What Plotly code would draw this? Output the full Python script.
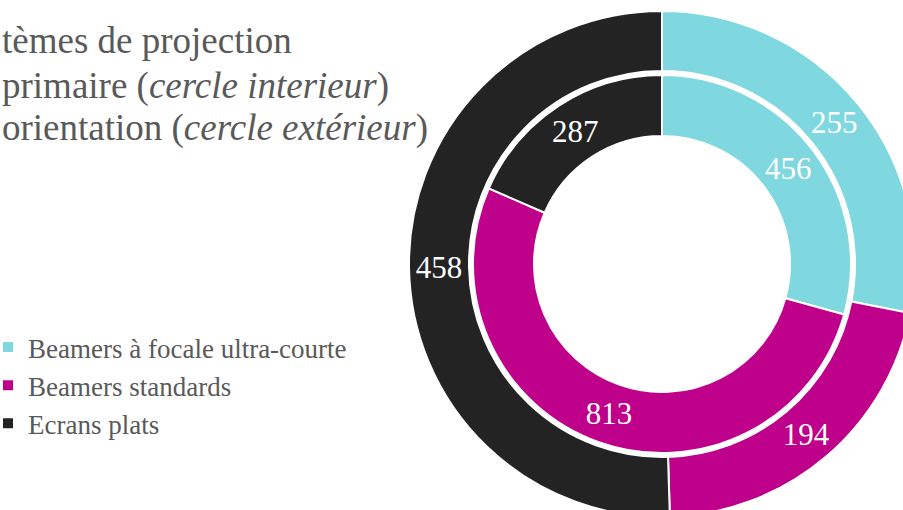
import plotly.graph_objects as go

# ---- data ----
labels = ["Beamers à focale ultra-courte", "Beamers standards", "Ecrans plats"]
inner_values = [456, 813, 287]   # usage primaire (cercle interieur)
outer_values = [255, 194, 458]   # orientation (cercle extérieur)
colors = ["#7FD8E0", "#BE008A", "#232323"]
title_lines = [
    "tèmes de projection",
    "primaire (<i>cercle interieur</i>)",
    "orientation (<i>cercle extérieur</i>)",
]

# ---- layout geometry (pixels) ----
W, H = 920, 530          # figure slightly larger than the 903x510 view, clipped like the reference
cx, cy = 662, 264        # donut centre (from top-left)
R_out, R_mid_out, R_mid_in, R_in = 253, 193, 189, 128
FONT = "Liberation Serif, Times New Roman, serif"


def dom(r):
    cyb = H - cy
    return dict(x=[(cx - r) / W, (cx + r) / W], y=[(cyb - r) / H, (cyb + r) / H])


fig = go.Figure()
fig.add_trace(go.Pie(
    labels=labels, values=outer_values, sort=False, direction="clockwise", rotation=0,
    hole=R_mid_out / R_out, domain=dom(R_out),
    marker=dict(colors=colors, line=dict(color="white", width=2)),
    textinfo="value", textposition="inside", insidetextorientation="horizontal",
    textfont=dict(family=FONT, size=31, color="white"), showlegend=False,
))
fig.add_trace(go.Pie(
    labels=labels, values=inner_values, sort=False, direction="clockwise", rotation=0,
    hole=R_in / R_mid_in, domain=dom(R_mid_in),
    marker=dict(colors=colors, line=dict(color="white", width=2)),
    textinfo="value", textposition="inside", insidetextorientation="horizontal",
    textfont=dict(family=FONT, size=31, color="white"), showlegend=True,
))

title_mid = [41, 86, 128]
for txt, ym in zip(title_lines, title_mid):
    fig.add_annotation(text=txt, xref="paper", yref="paper", x=0, y=1 - ym / H,
                       xanchor="left", yanchor="middle", showarrow=False,
                       font=dict(family=FONT, size=37, color="#595959"))

fig.update_layout(
    width=W, height=H, margin=dict(l=0, r=0, t=0, b=0, autoexpand=False),
    paper_bgcolor="white", plot_bgcolor="white",
    legend=dict(x=-12 / W, y=1 - 323 / H, xanchor="left", yanchor="top",
                font=dict(family=FONT, size=27, color="#595959"),
                bgcolor="rgba(0,0,0,0)"),
)

post = """
document.documentElement.style.overflow='hidden';
document.body.style.margin='0';
document.body.style.overflow='hidden';
var gd=document.getElementById('{plot_id}');
var p=gd.parentElement; p.style.width='903px'; p.style.height='510px'; p.style.overflow='hidden';
"""
fig.write_html("out.html", post_script=post, config={"displayModeBar": False})
